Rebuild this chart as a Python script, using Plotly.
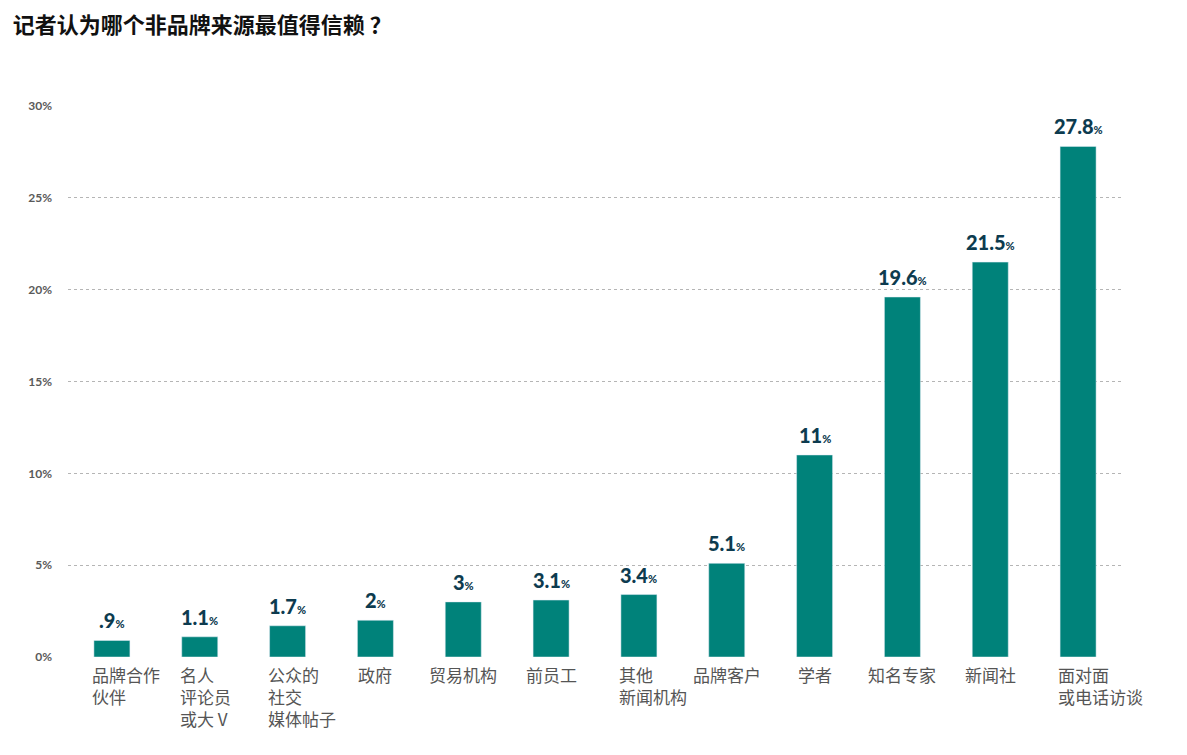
import plotly.graph_objects as go

categories = ['品牌合作<br>伙伴', '名人<br>评论员<br>或大 V', '公众的<br>社交<br>媒体帖子', '政府', '贸易机构',
              '前员工', '其他<br>新闻机构', '品牌客户', '学者', '知名专家', '新闻社', '面对面<br>或电话访谈']
values = [0.9, 1.1, 1.7, 2, 3, 3.1, 3.4, 5.1, 11, 19.6, 21.5, 27.8]
value_text = ['.9', '1.1', '1.7', '2', '3', '3.1', '3.4', '5.1', '11', '19.6', '21.5', '27.8']
y_ticks = [0, 5, 10, 15, 20, 25, 30]
y_ticktext = ['0%', '5%', '10%', '15%', '20%', '25%', '30%']

bar_color = '#00827a'
label_color = '#0d3b4f'

x_idx = list(range(len(categories)))

fig = go.Figure()
fig.add_trace(go.Bar(x=x_idx, y=values, marker_color=bar_color, width=0.41, hoverinfo='y'))

# value labels above bars
for i, (v, t) in enumerate(zip(values, value_text)):
    fig.add_annotation(x=i, y=v, xref='x', yref='y', showarrow=False,
                       text=t + '<span style="font-size:11px">%</span>',
                       xanchor='center', yanchor='bottom', yshift=6,
                       font=dict(family='Lato, Noto Sans', size=20, color=label_color, weight=900))

# category labels, multi-line ones left aligned from the bar edge
for i, c in enumerate(categories):
    multi = '<br>' in c
    fig.add_annotation(x=i - 0.25 if multi else i, y=0, xref='x', yref='y',
                       text=c, showarrow=False, align='left',
                       xanchor='left' if multi else 'center', yanchor='top', yshift=-3,
                       font=dict(family='Noto Sans CJK SC', size=17, color='#555555'))

fig.update_layout(
    width=1187, height=755,
    plot_bgcolor='white', paper_bgcolor='white',
    margin=dict(l=60, r=73, t=98, b=106),
    showlegend=False,
    title=dict(text='<b>记者认为哪个非品牌来源最值得信赖 ？</b>', x=0.004, xanchor='left',
               y=0.977, yanchor='middle',
               font=dict(family='Noto Sans CJK SC', size=22, color='#111111')),
)
fig.update_xaxes(range=[-0.5, 11.5], showticklabels=False, showgrid=False,
                 zeroline=False, showline=False, fixedrange=True)
fig.update_yaxes(range=[0, 30], tickvals=y_ticks, ticktext=y_ticktext,
                 showgrid=True, gridcolor='#b5b5b5', griddash='3px,3px', gridwidth=1,
                 zeroline=False, showline=False, ticklabelstandoff=15,
                 tickfont=dict(family='Lato, Noto Sans', size=12, color='#5a5a5a', weight=700))

fig.write_html('out.html')
